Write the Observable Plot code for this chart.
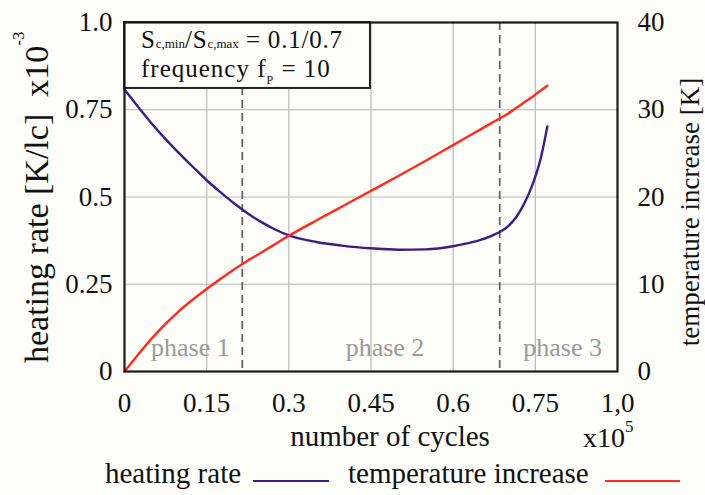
<!DOCTYPE html>
<html><head><meta charset="utf-8">
<script src="https://cdn.jsdelivr.net/npm/d3@7"></script>
<script src="https://cdn.jsdelivr.net/npm/@observablehq/plot@0.6"></script>
<style>
html,body{margin:0;padding:0;background:#fcfcf8;}
body{font-family:"Liberation Serif","Times New Roman",Times,"DejaVu Serif",serif;color:#111;}
#wrap{position:relative;width:705px;height:495px;overflow:hidden;}
#legend{position:absolute;left:0;top:455px;width:705px;height:40px;font-size:29px;}
#legend .lbl{position:absolute;top:2px;line-height:32px;white-space:nowrap;}
#legend .sw{position:absolute;top:25px;height:2px;}
</style></head><body><div id="wrap"></div>
<script>
// ---- data ----
const cycles = [0, 0.025, 0.05, 0.075, 0.1, 0.125, 0.15, 0.175, 0.2, 0.225, 0.25, 0.275, 0.3, 0.35, 0.4, 0.45, 0.5, 0.55, 0.6, 0.625, 0.65, 0.675, 0.7, 0.715, 0.73, 0.745, 0.76, 0.772];
const heatingRate = [0.808, 0.758, 0.710, 0.666, 0.625, 0.586, 0.548, 0.514, 0.482, 0.453, 0.428, 0.407, 0.390, 0.371, 0.360, 0.353, 0.349, 0.350, 0.359, 0.367, 0.377, 0.392, 0.416, 0.442, 0.482, 0.536, 0.612, 0.702];
const temperature = [0, 1.95, 3.8, 5.45, 6.95, 8.25, 9.45, 10.6, 11.7, 12.7, 13.65, 14.6, 15.55, 17.3, 19.0, 20.7, 22.4, 24.15, 25.95, 26.85, 27.75, 28.65, 29.55, 30.2, 30.85, 31.5, 32.2, 32.75];
const phaseBounds = [0.215, 0.685];
const phaseNames = ["phase 1", "phase 2", "phase 3"];
const xTicks = [0, 0.15, 0.3, 0.45, 0.6, 0.75, 0.9];
const xTickLabels = ["0", "0.15", "0.3", "0.45", "0.6", "0.75", "1,0"];
const yTicks = [0, 0.25, 0.5, 0.75, 1.0];
const yTickLabels = ["0", "0.25", "0.5", "0.75", "1.0"];
const tempTicks = [0, 10, 20, 30, 40];
const tempMax = 40;
const seriesNames = ["heating rate", "temperature increase"];
const seriesColors = ["#3b1d8a", "#ff2b1c"];

// ---- layout ----
const W = 705, H = 455;
const mL = 124, mR = 88, mT = 22, mB = 84;
const bg = "#fcfcf8";
const font = "'Liberation Serif', 'Times New Roman', Times, 'DejaVu Serif', serif";

const rows = cycles.map((c, i) => ({c, h: heatingRate[i], t: temperature[i]}));
const xDomainMax = xTicks[xTicks.length - 1];
const edges = [0, ...phaseBounds, xDomainMax];
const phaseRows = phaseNames.map((n, i) => ({n, x: (edges[i] + edges[i + 1]) / 2}));
const phaseDx = [7, 14, 4];

const plot = Plot.plot({
  width: W, height: H,
  marginLeft: mL, marginRight: mR, marginTop: mT, marginBottom: mB,
  style: {background: "transparent", fontFamily: font, fontSize: "27px", color: "#111", overflow: "visible"},
  x: {domain: [0, xDomainMax]},
  y: {domain: [0, 1]},
  marks: [
    Plot.gridX(xTicks.slice(1, -1), {stroke: "#b9b9b9", strokeOpacity: 1, strokeWidth: 1.2}),
    Plot.gridY(yTicks.slice(1, -1), {stroke: "#b9b9b9", strokeOpacity: 1, strokeWidth: 1.2}),
    Plot.ruleX(phaseBounds, {stroke: "#666", strokeWidth: 1.8, strokeDasharray: "8,5"}),
    ...phaseRows.map((r, i) => Plot.text([r], {x: "x", text: "n", frameAnchor: "bottom", dy: -16, dx: phaseDx[i], fill: "#9a9a9a", fontSize: 26})),
    Plot.line(rows, {x: "c", y: "h", stroke: seriesColors[0], strokeWidth: 2.4, curve: "monotone-x"}),
    Plot.line(rows, {x: "c", y: d => d.t / tempMax, stroke: seriesColors[1], strokeWidth: 2.4, curve: "monotone-x"}),
    Plot.rect([0], {x1: 0, x2: 0.449, y1: 0.811, y2: 1, fill: bg, stroke: "#222", strokeWidth: 2}),
    Plot.axisX({ticks: xTicks, tickFormat: d => xTickLabels[xTicks.indexOf(d)], tickSize: 0, tickPadding: 21, label: null, fontSize: 27}),
    Plot.axisY({anchor: "left", ticks: yTicks, tickFormat: d => yTickLabels[yTicks.indexOf(d)], tickSize: 0, tickPadding: 12, label: null, fontSize: 27}),
    Plot.axisY({anchor: "right", ticks: tempTicks.map(t => t / tempMax), tickFormat: d => String(tempTicks[Math.round(d * tempMax / 10)]), tickSize: 0, tickPadding: 20, label: null, fontSize: 27}),
    Plot.frame({stroke: "#1a1a1a", strokeWidth: 2.2})
  ]
});

document.getElementById("wrap").appendChild(plot);

// ---- rich text (sub/superscripts) ----
const svg = d3.select(plot);
const g = svg.append("g").attr("fill", "#111").attr("text-anchor", "start");

// box annotation
const t1 = g.append("text").attr("x", 141).attr("y", 48).attr("font-size", 25).attr("letter-spacing", 0.8);
t1.append("tspan").text("S");
t1.append("tspan").attr("font-size", 13).attr("letter-spacing", 0).text("c,min");
t1.append("tspan").text("/S");
t1.append("tspan").attr("font-size", 13).attr("letter-spacing", 0).text("c,max");
t1.append("tspan").text(" = 0.1/0.7");
const t2 = g.append("text").attr("x", 141).attr("y", 77).attr("font-size", 25).attr("letter-spacing", 1);
t2.append("tspan").text("frequency f");
t2.append("tspan").attr("font-size", 12).attr("dy", 7).text("P");
t2.append("tspan").attr("dy", -7).text(" = 10");

// left axis title
const lt = g.append("text").attr("transform", "translate(48,363) rotate(-90)").attr("font-size", 34);
lt.append("tspan").text("heating rate [K/lc]\u00a0\u00a0x10");
lt.append("tspan").attr("font-size", 17).attr("dy", -24).text("-3");

// right axis title
g.append("text").attr("transform", "translate(699,212) rotate(-90)").attr("font-size", 27).attr("text-anchor", "middle").text("temperature increase [K]");

// x axis title
g.append("text").attr("x", 390).attr("y", 446).attr("font-size", 29).attr("text-anchor", "middle").text("number of cycles");
const xt = g.append("text").attr("x", 583).attr("y", 447).attr("font-size", 28);
xt.append("tspan").text("x10");
xt.append("tspan").attr("font-size", 17).attr("dy", -15).text("5");

// ---- legend (below the chart) ----
const legend = d3.select("#wrap").append("div").attr("id", "legend");
const lx = [[105, 253, 329], [348, 605, 680]];
seriesNames.forEach((n, i) => {
  legend.append("span").attr("class", "lbl").style("left", lx[i][0] + "px").text(n);
  legend.append("div").attr("class", "sw").style("left", lx[i][1] + "px").style("width", (lx[i][2] - lx[i][1]) + "px").style("background", seriesColors[i]);
});
</script></body></html>
